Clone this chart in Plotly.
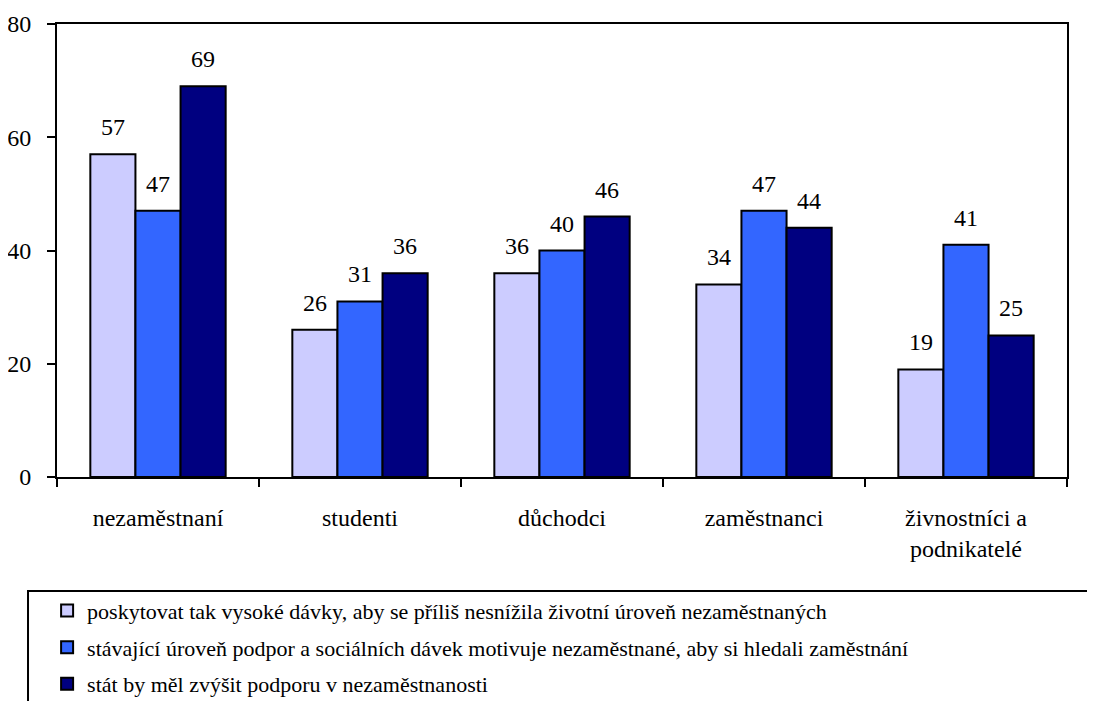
import plotly.graph_objects as go

categories = ["nezaměstnaní", "studenti", "důchodci", "zaměstnanci", "živnostníci a<br>podnikatelé"]
series_names = [
    "poskytovat tak vysoké dávky, aby se příliš nesnížila životní úroveň nezaměstnaných",
    "stávající úroveň podpor a sociálních dávek motivuje nezaměstnané, aby si hledali zaměstnání",
    "stát by měl zvýšit podporu v nezaměstnanosti",
]
values_a = [57, 26, 36, 34, 19]
values_b = [47, 31, 40, 47, 41]
values_c = [69, 36, 46, 44, 25]
colors = ["#CCCCFF", "#3366FF", "#000080"]
y_ticks = [0, 20, 40, 60, 80]

FONT = "Liberation Serif"

fig = go.Figure()
all_values = [values_a, values_b, values_c]
for i, (name, vals, col) in enumerate(zip(series_names, all_values, colors)):
    fig.add_trace(go.Bar(
        x=categories, y=vals, name=name, legendgroup=f"g{i}",
        marker=dict(color=col, line=dict(color="black", width=2)),
    ))

shifts = [-45, 0, 45]
for vals, xs in zip(all_values, shifts):
    for c, v in zip(categories, vals):
        fig.add_annotation(x=c, y=v, text=str(v), xshift=xs, yshift=27,
                           showarrow=False, font=dict(family=FONT, size=24, color="black"))

fig.add_shape(type="rect", xref="paper", yref="paper",
              x0=-0.0287, x1=1.2, y0=-0.2517, y1=-0.7,
              line=dict(color="black", width=2), fillcolor="rgba(0,0,0,0)")

fig.update_layout(
    width=1095, height=720,
    margin=dict(l=49, r=36, t=16, b=251),
    paper_bgcolor="white", plot_bgcolor="white",
    barmode="group", bargap=0.33, bargroupgap=0,
    font=dict(family=FONT, size=24, color="black"),
    showlegend=True,
    legend=dict(x=-0.0098, y=-0.249, xanchor="left", yanchor="top",
                font=dict(family=FONT, size=22, color="black"),
                itemwidth=30, tracegroupgap=5, traceorder="grouped",
                bgcolor="rgba(0,0,0,0)"),
)
fig.update_xaxes(showline=True, mirror=True, linecolor="black", linewidth=2,
                 ticks="outside", tickson="boundaries", ticklen=8, tickwidth=2,
                 tickcolor="black", ticklabelstandoff=18, automargin=False,
                 tickfont=dict(family=FONT, size=24, color="black"))
fig.update_yaxes(range=[0, 80], tickvals=y_ticks, showgrid=False, zeroline=False,
                 showline=True, mirror=True, linecolor="black", linewidth=2,
                 ticks="outside", ticklen=8, tickwidth=2, tickcolor="black",
                 ticklabelstandoff=11, automargin=False,
                 tickfont=dict(family=FONT, size=24, color="black"))

fig.write_html("out.html")
